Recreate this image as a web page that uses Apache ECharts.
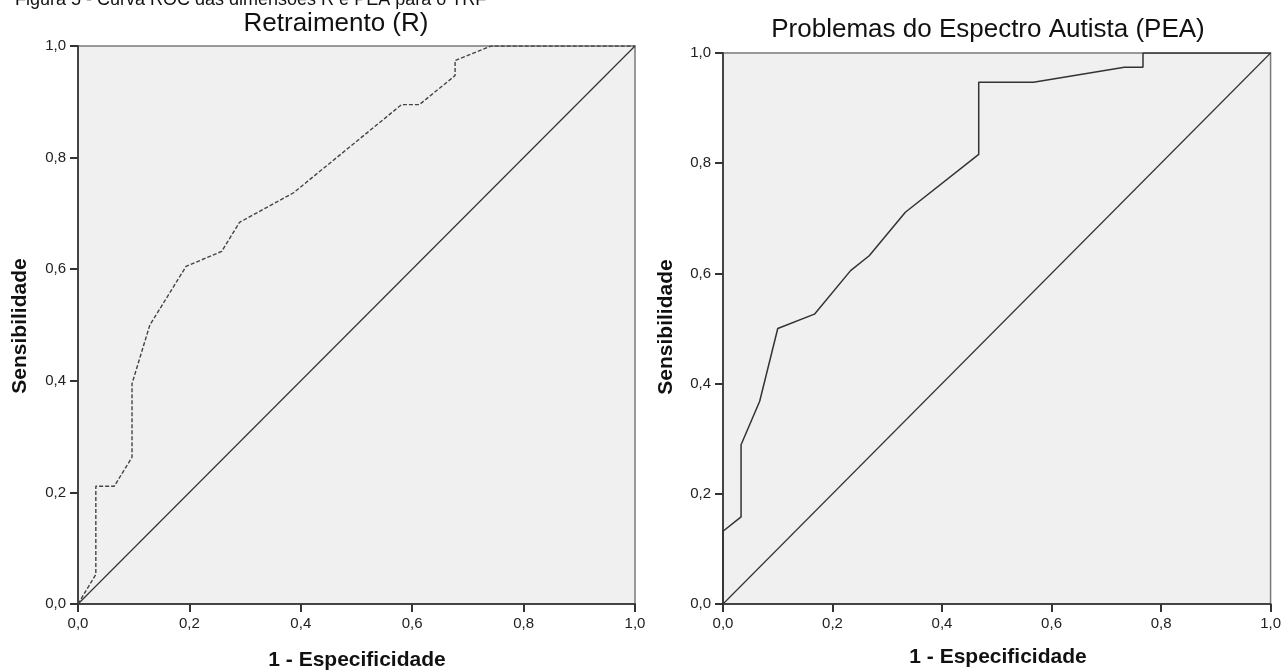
<!DOCTYPE html>
<html>
<head>
<meta charset="utf-8">
<script src="https://cdn.jsdelivr.net/npm/echarts@6/dist/echarts.min.js"></script>
<style>
html,body{margin:0;padding:0;background:#fff;}
#c{width:1284px;height:671px;}
</style>
</head>
<body>
<div id="c"></div>
<script>
// ---- data ----
var figureTitle = 'Figura 5 - Curva ROC das dimensões R e PEA para o TRF';
var panelTitles = ['Retraimento (R)', 'Problemas do Espectro Autista (PEA)'];
var xTitle = '1 - Especificidade';
var yTitle = 'Sensibilidade';

var rX = [0, 0.032, 0.032, 0.065, 0.097, 0.097, 0.129, 0.194, 0.258, 0.290, 0.387, 0.581, 0.613, 0.677, 0.677, 0.742, 1.0];
var rY = [0, 0.053, 0.211, 0.211, 0.263, 0.395, 0.500, 0.605, 0.632, 0.684, 0.737, 0.895, 0.895, 0.947, 0.974, 1.0, 1.0];

var peaX = [0, 0, 0.033, 0.033, 0.067, 0.100, 0.167, 0.233, 0.267, 0.333, 0.467, 0.467, 0.567, 0.733, 0.767, 0.767, 1.0];
var peaY = [0, 0.132, 0.158, 0.289, 0.368, 0.500, 0.526, 0.605, 0.632, 0.711, 0.816, 0.947, 0.947, 0.974, 0.974, 1.0, 1.0];

var diagX = [0, 1];
var diagY = [0, 1];

function pairs(xs, ys){ return xs.map(function(x,i){ return [x, ys[i]]; }); }
function fmt(v){ return Number(v).toFixed(1).replace('.', ','); }

var FONT = '"Liberation Sans", Arial, sans-serif';

var grids = [
  {left: 78, top: 46, width: 557, height: 558},
  {left: 723, top: 53, width: 550, height: 551}
];

function axisBase(){
  return {
    type: 'value', min: 0, max: 1, interval: 0.2,
    axisLine: {show: true, lineStyle: {color: '#444', width: 2}},
    axisTick: {show: true, length: 8, lineStyle: {color: '#333', width: 2}},
    splitLine: {show: false},
    axisLabel: {formatter: fmt, color: '#222', fontSize: 15, fontFamily: FONT}
  };
}

var xAxes = [], yAxes = [];
for (var g = 0; g < 2; g++) {
  var xa = axisBase(); xa.gridIndex = g; xa.axisLabel.margin = 12;
  var ya = axisBase(); ya.gridIndex = g; ya.axisLabel.margin = 12;
  xAxes.push(xa); yAxes.push(ya);
}

var gridOpts = grids.map(function(gr){
  return {left: gr.left, top: gr.top, width: gr.width, height: gr.height,
    show: true, backgroundColor: '#f0f0f0', borderColor: '#7a7a7a', borderWidth: 1.5};
});

var chart = echarts.init(document.getElementById('c'), null, {renderer: 'canvas'});
chart.setOption({
  animation: false,
  grid: gridOpts,
  xAxis: xAxes,
  yAxis: yAxes,
  series: [
    {type: 'line', xAxisIndex: 0, yAxisIndex: 0, data: pairs(diagX, diagY), symbol: 'none',
      lineStyle: {color: '#333', width: 1.2}, z: 3},
    {type: 'line', xAxisIndex: 0, yAxisIndex: 0, data: pairs(rX, rY), symbol: 'none',
      lineStyle: {color: '#444', width: 1.4, type: [4, 2]}, z: 4},
    {type: 'line', xAxisIndex: 1, yAxisIndex: 1, data: pairs(diagX, diagY), symbol: 'none',
      lineStyle: {color: '#333', width: 1.2}, z: 3},
    {type: 'line', xAxisIndex: 1, yAxisIndex: 1, data: pairs(peaX, peaY), symbol: 'none',
      lineStyle: {color: '#333', width: 1.5}, z: 4}
  ],
  graphic: [
    {type: 'text', x: 15, y: 0, style: {text: figureTitle, font: '18px ' + FONT, fill: '#111', align: 'left', verticalAlign: 'middle'}},
    {type: 'text', x: 336, y: 24, style: {text: panelTitles[0], font: '26px ' + FONT, fill: '#111', align: 'center', verticalAlign: 'middle'}},
    {type: 'text', x: 988, y: 30, style: {text: panelTitles[1], font: '26px ' + FONT, fill: '#111', align: 'center', verticalAlign: 'middle'}},
    {type: 'text', x: 357, y: 660, style: {text: xTitle, font: 'bold 21px ' + FONT, fill: '#111', align: 'center', verticalAlign: 'middle'}},
    {type: 'text', x: 998, y: 657, style: {text: xTitle, font: 'bold 21px ' + FONT, fill: '#111', align: 'center', verticalAlign: 'middle'}},
    {type: 'text', x: 20, y: 326, rotation: Math.PI/2, style: {text: yTitle, font: 'bold 21px ' + FONT, fill: '#111', align: 'center', verticalAlign: 'middle'}},
    {type: 'text', x: 666, y: 327, rotation: Math.PI/2, style: {text: yTitle, font: 'bold 21px ' + FONT, fill: '#111', align: 'center', verticalAlign: 'middle'}}
  ]
});
</script>
</body>
</html>
